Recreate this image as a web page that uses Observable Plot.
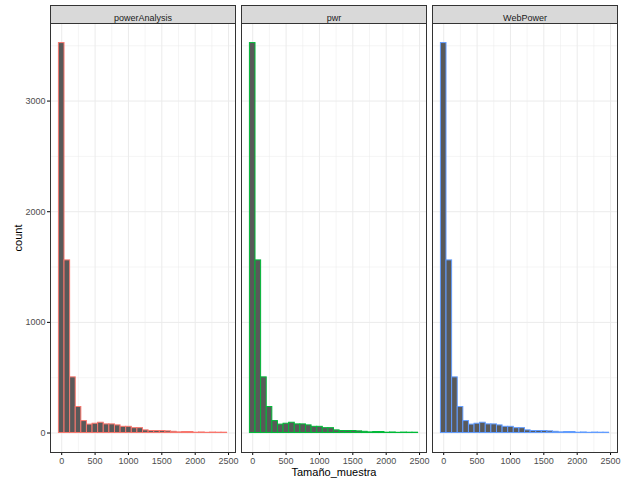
<!DOCTYPE html>
<html><head><meta charset="utf-8">
<script src="https://cdn.jsdelivr.net/npm/d3@7"></script>
<script src="https://cdn.jsdelivr.net/npm/@observablehq/plot@0.6"></script>
<style>
body{margin:0;background:#fff}
#chart svg{background:#fff}
#chart g[aria-label$="tick label"]{fill:#4D4D4D}
#chart g[aria-label$="tick"]{stroke:#333333}
#chart g[aria-label$="axis label"]{font-size:11px;fill:#000}
</style></head><body><div id="chart"></div>
<script>
const panels = ["powerAnalysis", "pwr", "WebPower"];
const strokeColors = ["#F8766D", "#00BA38", "#619CFF"];
const binCenters = [0, 84, 168, 252, 336, 420, 504, 588, 672, 756, 840, 924, 1008, 1092, 1176,
  1260, 1344, 1428, 1512, 1596, 1680, 1764, 1848, 1932, 2016, 2100, 2184, 2268, 2352, 2436];
const binWidth = 84;
const countsPowerAnalysis = [3524, 1560, 503, 235, 108, 76, 84, 93, 78, 78, 69, 56, 56, 44, 44,
  24, 18, 18, 18, 15, 11, 6, 9, 9, 3, 5, 2, 4, 3, 3];
const countsPwr = [3524, 1560, 503, 235, 108, 76, 84, 93, 78, 78, 69, 56, 56, 44, 44,
  24, 18, 18, 18, 15, 11, 6, 9, 9, 3, 5, 2, 4, 3, 3];
const countsWebPower = [3524, 1560, 503, 235, 108, 76, 84, 93, 78, 78, 69, 56, 56, 44, 44,
  24, 18, 18, 18, 15, 11, 6, 9, 9, 3, 5, 2, 4, 3, 3];
const xTicks = [0, 500, 1000, 1500, 2000, 2500];
const xMinor = [250, 750, 1250, 1750, 2250];
const yTicks = [0, 1000, 2000, 3000];
const yMinor = [500, 1500, 2500, 3500];

const countsByPanel = [countsPowerAnalysis, countsPwr, countsWebPower];
const rows = [];
panels.forEach((p, i) => {
  binCenters.forEach((c, j) => {
    rows.push({panel: p, x1: c - binWidth / 2, x2: c + binWidth / 2, count: countsByPanel[i][j]});
  });
});

const W = 625, H = 480, mt = 23, mb = 28;
const plotH = H - mt - mb;

const chart = Plot.plot({
  width: W, height: H,
  marginTop: mt, marginBottom: mb, marginLeft: 49, marginRight: 6,
  style: {fontFamily: "'Liberation Sans', Arial, sans-serif", fontSize: "9px", background: "#fff"},
  fx: {axis: null, domain: panels, paddingInner: 0.03, paddingOuter: 0},
  x: {domain: [-168, 2604], ticks: xTicks, tickSize: 3, tickPadding: 2, tickFormat: d => String(d),
      label: "Tamaño_muestra", labelAnchor: "center", labelArrow: "none", labelOffset: 23},
  y: {domain: [-176, 3701], ticks: yTicks, tickSize: 3, tickPadding: 2, tickFormat: d => String(d),
      label: "count", labelAnchor: "center", labelArrow: "none", labelOffset: 36},
  color: {domain: panels, range: strokeColors},
  marks: [
    Plot.ruleX(xMinor, {stroke: "#EBEBEB", strokeWidth: 0.5}),
    Plot.ruleY(yMinor, {stroke: "#EBEBEB", strokeWidth: 0.5}),
    Plot.ruleX(xTicks, {stroke: "#EBEBEB", strokeWidth: 1}),
    Plot.ruleY(yTicks, {stroke: "#EBEBEB", strokeWidth: 1}),
    Plot.rectY(rows, {fx: "panel", x1: "x1", x2: "x2", y: "count", fill: "#595959", stroke: "panel", strokeWidth: 1}),
    Plot.frame({stroke: "#333333", strokeWidth: 1}),
    Plot.frame({fill: "#D9D9D9", stroke: "#333333", strokeWidth: 1, insetTop: -18, insetBottom: plotH}),
    Plot.text(panels, {fx: d => d, text: d => d, frameAnchor: "top", dy: -9, fill: "#1A1A1A", fontSize: 9})
  ]
});
document.getElementById("chart").appendChild(chart);
</script></body></html>
